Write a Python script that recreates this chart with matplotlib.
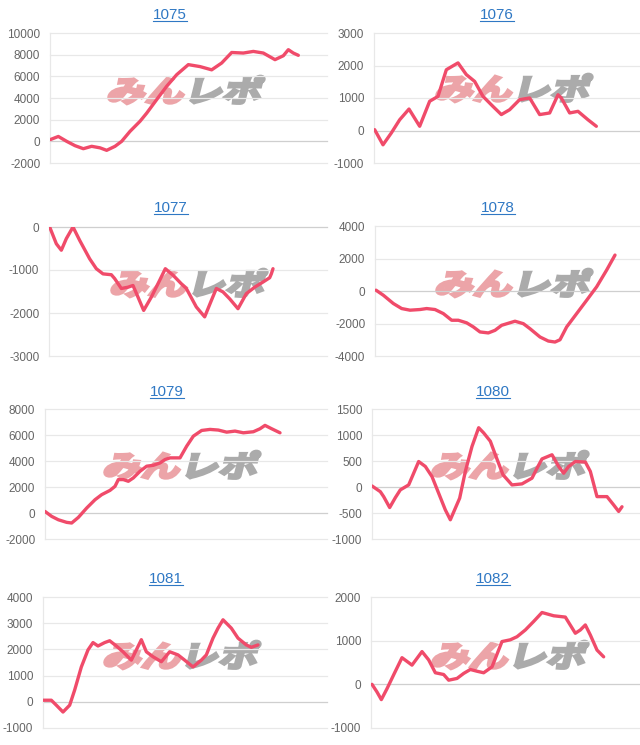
import matplotlib
matplotlib.use('Agg')
import matplotlib.pyplot as plt
from matplotlib.textpath import TextPath
from matplotlib.font_manager import FontProperties
from matplotlib.patches import PathPatch
from matplotlib.transforms import Affine2D, IdentityTransform
from matplotlib.lines import Line2D

plt.rcParams['font.family'] = ['Liberation Sans', 'DejaVu Sans']
plt.rcParams['axes.unicode_minus'] = False

# 台番号
titles = ['1075', '1076', '1077', '1078', '1079', '1080', '1081', '1082']

# 差枚データ (x = ゲーム進行, y = 差枚)
x_1075 = [0, 25, 50, 75, 100, 125, 150, 170, 195, 215, 240, 270, 290, 320, 350, 380, 415,
          450, 485, 515, 545, 580, 610, 640, 675, 700, 715, 730, 745]
y_1075 = [150, 450, 0, -400, -680, -460, -600, -830, -460, 0, 920, 1850, 2600, 3850, 5080,
          6150, 7080, 6900, 6600, 7230, 8200, 8150, 8300, 8150, 7540, 7900, 8460, 8150, 7940]

x_1076 = [2, 27, 52, 77, 105, 137, 167, 192, 217, 252, 277, 302, 327, 357, 382, 407, 437,
          467, 497, 527, 552, 562, 587, 612, 642, 667]
y_1076 = [25, -440, -75, 330, 660, 130, 900, 1050, 1870, 2080, 1720, 1510, 1050, 740, 490,
          640, 950, 1000, 490, 540, 1100, 1000, 540, 590, 330, 130]

x_1077 = [2, 22, 37, 52, 72, 92, 122, 142, 162, 187, 197, 217, 237, 252, 267, 284, 307, 332,
          349, 372, 397, 412, 442, 467, 487, 502, 522, 542, 567, 592, 617, 642, 662, 667, 672]
y_1077 = [0, -390, -540, -270, 0, -310, -740, -970, -1090, -1110, -1200, -1430, -1400, -1360,
          -1630, -1940, -1630, -1240, -970, -1120, -1320, -1430, -1860, -2090, -1710, -1430,
          -1510, -1670, -1900, -1550, -1400, -1280, -1180, -1090, -970]

x_1078 = [3, 25, 55, 80, 105, 135, 155, 180, 205, 230, 250, 275, 295, 315, 340, 360, 380,
          420, 445, 465, 495, 520, 540, 555, 575, 605, 635, 665, 695, 720]
y_1078 = [50, -260, -770, -1080, -1180, -1140, -1080, -1140, -1390, -1800, -1800, -1960,
          -2210, -2520, -2580, -2420, -2110, -1860, -2010, -2320, -2830, -3080, -3140, -3000,
          -2210, -1390, -570, 260, 1290, 2210]

x_1079 = [0, 20, 40, 65, 80, 100, 125, 150, 170, 195, 210, 220, 235, 250, 265, 285, 305, 325,
          345, 360, 375, 405, 425, 445, 470, 495, 520, 545, 570, 595, 625, 645, 660, 680, 705]
y_1079 = [120, -260, -520, -720, -770, -340, 380, 1020, 1410, 1740, 2050, 2570, 2570, 2440,
          2700, 3210, 3600, 3670, 3850, 4110, 4240, 4240, 5140, 5910, 6350, 6430, 6380, 6220,
          6300, 6170, 6250, 6480, 6740, 6480, 6170]

x_1080 = [0, 25, 35, 53, 70, 85, 110, 140, 160, 180, 200, 220, 235, 263, 280, 300, 320, 335,
          355, 370, 393, 420, 450, 480, 495, 510, 540, 560, 575, 590, 610, 640, 655, 675, 705,
          725, 740, 750]
y_1080 = [20, -90, -185, -395, -205, -55, 40, 490, 395, 200, -120, -440, -630, -215, 300, 780,
          1140, 1040, 880, 620, 235, 40, 60, 170, 360, 540, 620, 395, 265, 395, 490, 480, 300,
          -185, -185, -345, -470, -380]

x_1081 = [0, 25, 40, 60, 80, 95, 115, 135, 150, 165, 185, 200, 220, 240, 265, 280, 295, 310,
          330, 355, 380, 405, 425, 450, 475, 490, 510, 525, 540, 565, 585, 610, 625, 645]
y_1081 = [60, 60, -130, -390, -130, 450, 1330, 1980, 2260, 2130, 2260, 2330, 2130, 1910, 1590,
          1980, 2370, 1910, 1720, 1530, 1910, 1790, 1590, 1330, 1590, 1790, 2430, 2810, 3130,
          2810, 2430, 2170, 2080, 2170]

x_1082 = [3, 18, 31, 48, 70, 93, 123, 153, 173, 193, 218, 233, 258, 278, 298, 318, 338, 363,
          393, 418, 438, 463, 488, 513, 548, 583, 613, 628, 643, 658, 678, 698]
y_1082 = [0, -175, -350, -100, 250, 610, 440, 750, 560, 265, 225, 95, 135, 250, 340, 300, 265,
          400, 980, 1020, 1090, 1245, 1440, 1645, 1570, 1540, 1170, 1245, 1360, 1130, 785, 630]

yticks_1075 = [-2000, 0, 2000, 4000, 6000, 8000, 10000]
yticks_1076 = [-1000, 0, 1000, 2000, 3000]
yticks_1077 = [-3000, -2000, -1000, 0]
yticks_1078 = [-4000, -2000, 0, 2000, 4000]
yticks_1079 = [-2000, 0, 2000, 4000, 6000, 8000]
yticks_1080 = [-1000, -500, 0, 500, 1000, 1500]
yticks_1081 = [-1000, 0, 1000, 2000, 3000, 4000]
yticks_1082 = [-1000, 0, 1000, 2000]

xs = [x_1075, x_1076, x_1077, x_1078, x_1079, x_1080, x_1081, x_1082]
ys = [y_1075, y_1076, y_1077, y_1078, y_1079, y_1080, y_1081, y_1082]
yticks = [yticks_1075, yticks_1076, yticks_1077, yticks_1078,
          yticks_1079, yticks_1080, yticks_1081, yticks_1082]

# レイアウト (px): left, top, right, bottom
W, H = 640, 745
boxes = [(50, 33, 327, 163), (374, 33, 640, 163),
         (49, 227, 327, 356), (375, 226, 640, 356),
         (45, 409, 327, 539), (372, 409, 640, 539),
         (43, 597, 327, 728), (371, 597, 640, 728)]
title_pos = [(170, 15), (497, 15), (171, 208), (498, 208),
             (167, 392), (493, 392), (166, 579), (493, 579)]
wm_pos = [(186, 90), (514, 88), (189, 283), (514, 283),
          (182, 465), (510, 465), (182, 655), (510, 655)]

LINE = '#f04b6a'
fig = plt.figure(figsize=(W / 100, H / 100), dpi=100)
fp = FontProperties(family='Noto Sans CJK JP', weight='bold')


def watermark(cx, cy):
    p1 = TextPath((0, 0), 'みん', size=31, prop=fp)
    p2 = TextPath((62, 0), 'レポ', size=31, prop=fp)
    e1, e2 = p1.get_extents(), p2.get_extents()
    mx = (e1.x0 + e2.x1) / 2
    my = (min(e1.y0, e2.y0) + max(e1.y1, e2.y1)) / 2
    tr = (Affine2D().translate(-mx, -my).scale(1.25, 0.95).skew_deg(14, 0)
          .translate(cx, H - cy))
    for p, c in ((p1, '#eca4a8'), (p2, '#ababab')):
        fig.add_artist(PathPatch(p, transform=tr, facecolor=c, edgecolor=c,
                                 lw=2.2, joinstyle='miter', zorder=-1))


title_texts = []
for i in range(8):
    l, t, r, b = boxes[i]
    ax = fig.add_axes([l / W, 1 - b / H, (r - l) / W, (b - t) / H])
    ax.set_facecolor('none')
    ax.plot(xs[i], ys[i], color=LINE, lw=2.4, solid_joinstyle='round',
            solid_capstyle='round', zorder=3)
    ax.set_xlim(0, 3 * (r - l))
    ax.set_ylim(yticks[i][0], yticks[i][-1])
    for v in yticks[i]:
        ax.axhline(v, color='#cfcfcf' if v == 0 else '#e8e8e8', lw=0.9,
                   clip_on=False, zorder=1)
    ax.set_yticks(yticks[i])
    ax.set_xticks([])
    ax.tick_params(axis='y', length=0, pad=7, labelsize=8.5, labelcolor='#666666')
    for s in ['top', 'right', 'bottom']:
        ax.spines[s].set_visible(False)
    ax.spines['left'].set_color('#e8e8e8')
    ax.spines['left'].set_linewidth(0.9)

    watermark(*wm_pos[i])
    tx, ty = title_pos[i]
    title_texts.append(fig.text(tx / W, 1 - ty / H, titles[i], ha='center',
                                va='center', fontsize=11, color='#2f78c4'))

# タイトルの下線
fig.canvas.draw()
rend = fig.canvas.get_renderer()
for t in title_texts:
    bb = t.get_window_extent(rend)
    yy = bb.y0 + 1.5
    fig.add_artist(Line2D([bb.x0, bb.x1], [yy, yy], color='#2f78c4', lw=0.8,
                          transform=IdentityTransform()))

fig.savefig('out.png', dpi=100)
